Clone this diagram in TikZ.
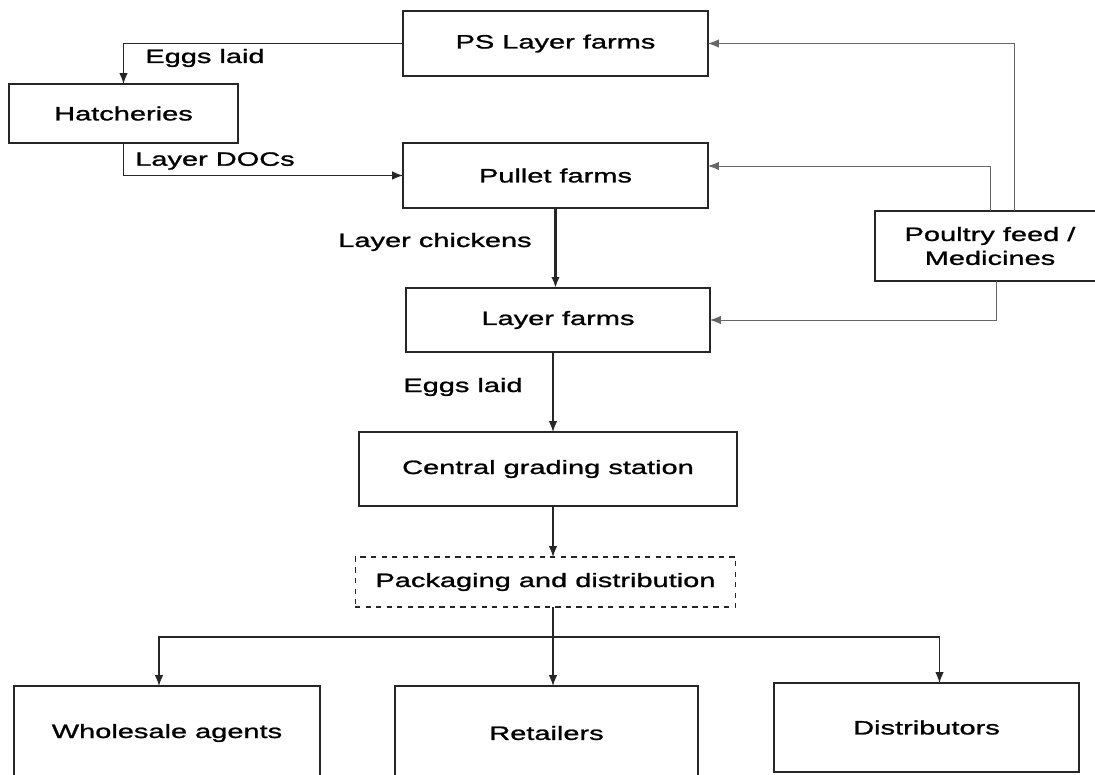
\documentclass[tikz,border=0pt]{standalone}
\usepackage{fontspec}
\setmainfont{Liberation Sans}[FakeStretch=1.5,FakeBold=1.2]
\usepackage{tikz}
\usetikzlibrary{calc}
\usetikzlibrary{arrows.meta}
\usetikzlibrary{positioning}

\begin{document}
\begin{tikzpicture}[
x=0.02cm, y=-0.02cm,
Boxes/.style={draw=black!85,line width=0.7pt,inner sep=0pt,outer sep=0pt,align=center},
DashBox/.style={Boxes,dashed,line width=0.6pt},
Links/.style={draw=black!85,line width=0.7pt,-{Latex[length=2.2mm, width=1.7mm]}},
FeedLinks/.style={draw=black!60,line width=0.5pt,-{Latex[length=2.2mm, width=1.7mm]}},
Labels/.style={inner sep=0pt},
every node/.style={font=\fontsize{11}{13.6}\selectfont}
]
\useasboundingbox (0,0) rectangle (1095,774);
\clip (0,0) rectangle (1095,774);

% upper chain
\node[Boxes,minimum width=6.1cm,minimum height=1.3cm] (ps) at (555.5,43.5) {PS Layer farms};
\node[Boxes,minimum width=4.58cm,minimum height=1.18cm] (hatch) at (123.5,113.5) {Hatcheries};
\node[Boxes,minimum width=6.1cm,minimum height=1.3cm] (pullet) at (555.5,175.5) {Pullet farms};
\node[Boxes,minimum width=6.08cm,minimum height=1.28cm] (layer) at (558,320) {Layer farms};
\node[Boxes,minimum width=4.6cm,minimum height=1.4cm] (feed) at (990,246) {Poultry feed /\\Medicines};

% lower chain
\node[Boxes,minimum width=7.56cm,minimum height=1.48cm] (grading) at (548,469) {Central grading station};
\node[DashBox,minimum width=7.62cm,minimum height=1.0cm] (pack) at (545.5,582) {Packaging and distribution};
\node[Boxes,minimum width=6.12cm,minimum height=1.88cm] (whole) at (167,733) {Wholesale agents};
\node[Boxes,minimum width=6.06cm,minimum height=1.88cm] (retail) at (546.5,733) {Retailers};
\node[Boxes,minimum width=6.1cm,minimum height=1.78cm] (distrib) at (926.5,727.5) {Distributors};

% flows
\coordinate (spine) at (553,0);
\draw[Links] (ps.west) -| (hatch.north);
\node[Labels] (eggsA) at (205,58) {Eggs laid};
\draw[Links] (hatch.south) |- (pullet.west);
\node[Labels] (docs) at (215,161) {Layer DOCs};
\draw[Links,line width=1.3pt] (pullet.south) -- (pullet.south |- layer.north);
\node[Labels] (chick) at (435,242) {Layer chickens};
\draw[Links] (spine |- layer.south) -- (spine |- grading.north);
\node[Labels] (eggsB) at (463,387) {Eggs laid};
\draw[Links] (spine |- grading.south) -- (spine |- pack.north);

% split to the outlets
\coordinate (split) at ($(spine |- pack.south)+(0,30)$);
\draw[Links,-] (spine |- pack.south) -- (split);
\draw[Links] (split) -| ($(whole.north)+(-8,0)$);
\draw[Links] (split) -- (split |- retail.north);
\draw[Links] (split) -| ($(distrib.north)+(13,0)$);

% feed and medicines
\draw[FeedLinks] ($(feed.north)+(24,0)$) |- (ps.east);
\draw[FeedLinks] (feed.north) |- ($(pullet.east)+(0,-9.5)$);
\draw[FeedLinks] ($(feed.south)+(6,0)$) |- (layer.east);

\end{tikzpicture}
\end{document}
